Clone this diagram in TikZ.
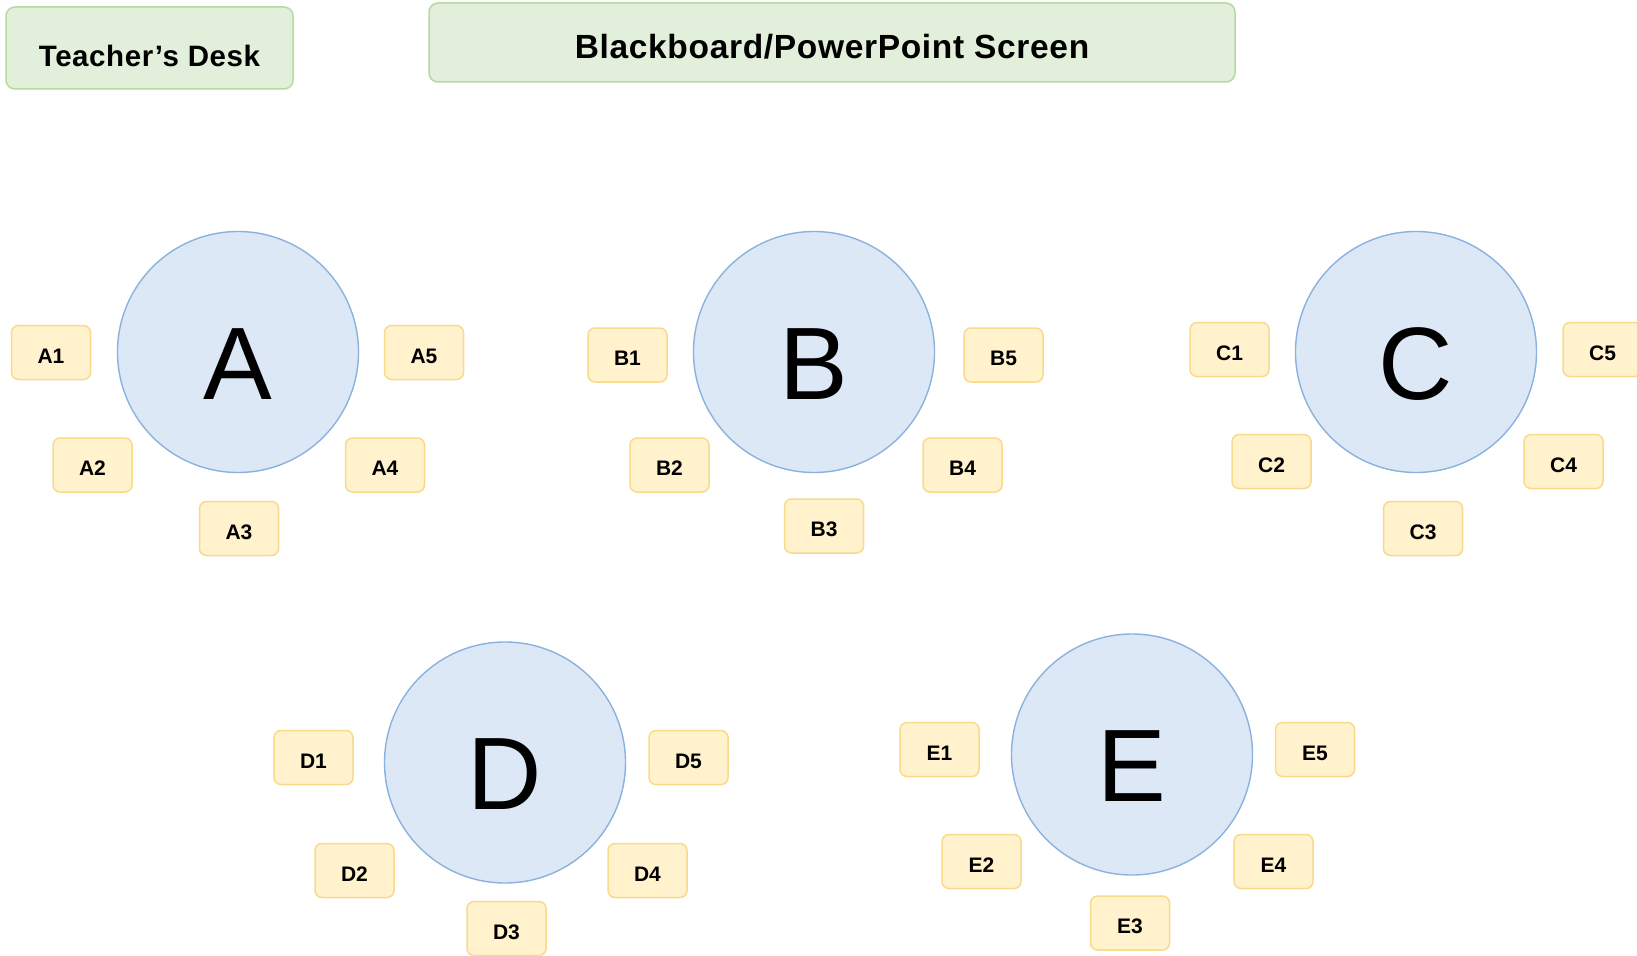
\documentclass[tikz,border=0pt]{standalone}
\usepackage{fontspec}
\setmainfont{Liberation Sans}
\newfontfamily\spacedbold[LetterSpace=2]{Liberation Sans Bold}
\definecolor{greenfill}{HTML}{E2EFDA}
\definecolor{greenline}{HTML}{B7D9A2}
\definecolor{bluefill}{HTML}{DCE8F5}
\definecolor{blueline}{HTML}{8AB2E0}
\definecolor{yellowfill}{HTML}{FFF2CC}
\definecolor{yellowline}{HTML}{F7DA8A}
\tikzset{
  panel/.style={draw=greenline, fill=greenfill, line width=1.5pt, rounded corners=9pt, inner sep=0pt},
  tablecircle/.style={circle, draw=blueline, fill=bluefill, line width=1.4pt, minimum size=241pt, inner sep=0pt,
    font=\fontsize{103}{103}\selectfont, text height=94pt, text depth=0pt},
  seat/.style={draw=yellowline, fill=yellowfill, line width=1.5pt, rounded corners=7pt, minimum width=79pt, minimum height=54pt,
    inner sep=0pt, font=\fontsize{21}{21}\bfseries\selectfont, text height=21.5pt, text depth=0pt},
}
\begin{document}
\begin{tikzpicture}[x=1pt,y=-1pt]
\useasboundingbox (0,0) rectangle (1637,955);
% top panels
\node[panel, minimum width=287pt, minimum height=82pt, font=\spacedbold\fontsize{29.5}{30}\selectfont, text height=37.5pt, text depth=0pt] (desk) at (149.5,48) {Teacher’s Desk};
\node[panel, minimum width=806pt, minimum height=79pt, font=\spacedbold\fontsize{33.5}{34}\selectfont, text height=31.5pt, text depth=0pt] (board) at (832,42.5) {Blackboard/PowerPoint Screen};
% tables
\node[tablecircle] (A) at (238,352) {A};
\node[tablecircle] (B) at (814,352) {B};
\node[tablecircle] (C) at (1416,352) {C};
\node[tablecircle] (D) at (505,762.5) {D};
\node[tablecircle] (E) at (1132,754.5) {E};
% seats A
\node[seat] (A1) at (51,352.5) {A1};
\node[seat] (A5) at (424,352.5) {A5};
\node[seat] (A2) at (92.5,465) {A2};
\node[seat] (A4) at (385,465) {A4};
\node[seat] (A3) at (239,528.5) {A3};
% seats B
\node[seat] (B1) at (627.5,355) {B1};
\node[seat] (B5) at (1003.5,355) {B5};
\node[seat] (B2) at (669.5,465) {B2};
\node[seat] (B4) at (962.5,465) {B4};
\node[seat] (B3) at (824,526) {B3};
% seats C
\node[seat] (C1) at (1229.5,349.5) {C1};
\node[seat] (C5) at (1602.5,349.5) {C5};
\node[seat] (C2) at (1271.5,461.5) {C2};
\node[seat] (C4) at (1563.5,461.5) {C4};
\node[seat] (C3) at (1423,528.5) {C3};
% seats D
\node[seat] (D1) at (313.5,757.5) {D1};
\node[seat] (D5) at (688.5,757.5) {D5};
\node[seat] (D2) at (354.5,870.5) {D2};
\node[seat] (D4) at (647.5,870.5) {D4};
\node[seat] (D3) at (506.5,928.5) {D3};
% seats E
\node[seat] (E1) at (939.5,749.5) {E1};
\node[seat] (E5) at (1315,749.5) {E5};
\node[seat] (E2) at (981.5,861.5) {E2};
\node[seat] (E4) at (1273.5,861.5) {E4};
\node[seat] (E3) at (1130,923) {E3};
\end{tikzpicture}
\end{document}
